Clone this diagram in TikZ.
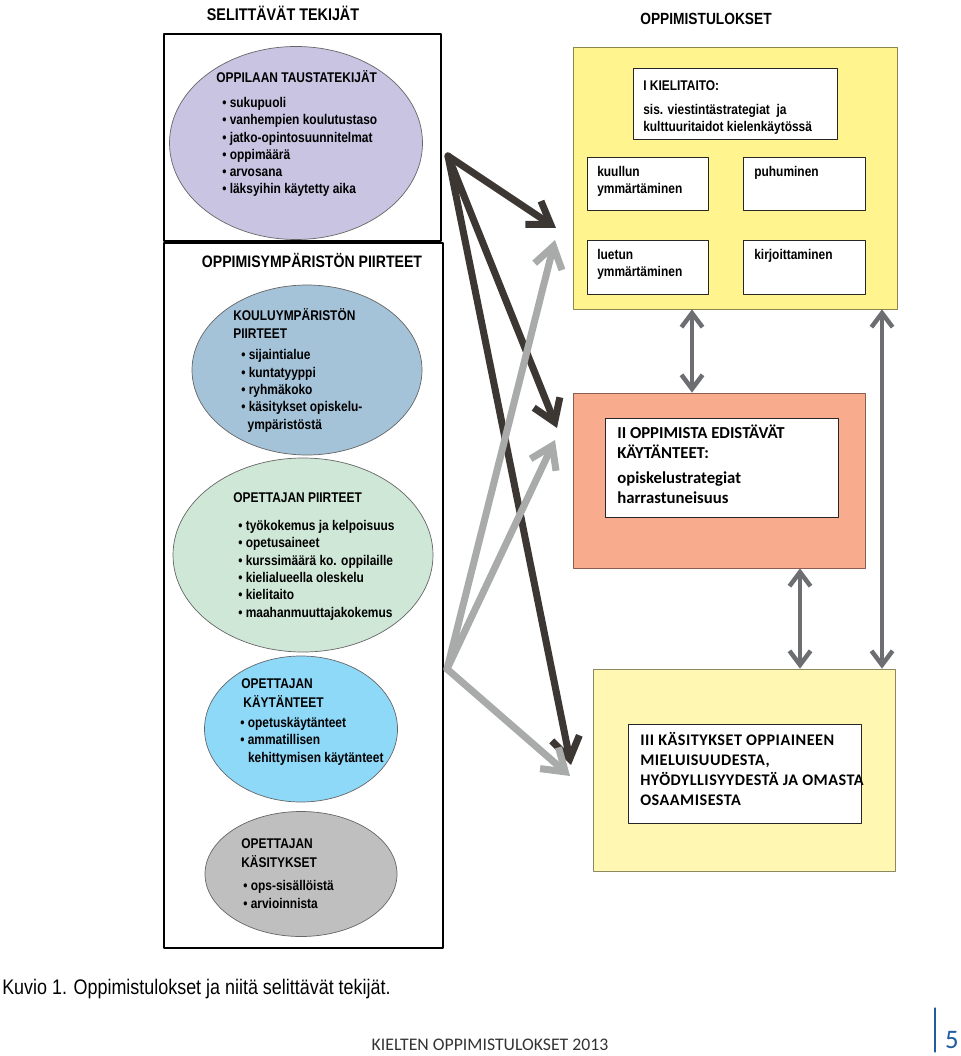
\documentclass[tikz,border=0pt]{standalone}
\usepackage{fontspec}
\setmainfont{Liberation Sans}
\newfontfamily\kapea{Liberation Sans}[FakeStretch=0.85]
\newfontfamily\calibri{Carlito}
\usetikzlibrary{shapes.geometric,arrows.meta,fit}

\definecolor{tausta}{RGB}{200,196,226}
\definecolor{koulu}{RGB}{164,194,216}
\definecolor{opettaja}{RGB}{207,231,215}
\definecolor{kaytanto}{RGB}{142,216,248}
\definecolor{kasitys}{RGB}{191,191,191}
\definecolor{keltainen}{RGB}{255,244,142}
\definecolor{lohi}{RGB}{249,171,142}
\definecolor{vaalea}{RGB}{255,247,178}
\definecolor{tumma}{RGB}{61,55,52}
\definecolor{harmaa}{RGB}{169,171,170}
\definecolor{nuoli}{RGB}{109,110,113}
\definecolor{sininen}{RGB}{31,92,160}

\def\yks{0.025cm}

\begin{document}
\begin{tikzpicture}[x=0.025cm,y=-0.025cm,line join=round,line cap=round]
\tikzset{every node/.style={inner sep=0pt,font=\kapea\bfseries\fontsize{10}{12.3}\selectfont},
  lista/.style={anchor=base west,align=left},
  otsikko/.style={lista,font=\kapea\bfseries\fontsize{10}{13.5}\selectfont},
  pallo/.style={ellipse,draw=black!60,line width=0.5pt,fill=#1},
  kehys/.style={draw=black,line width=0.9pt},
  ruutu/.style={draw=black!85,line width=0.6pt,fill=white},
  alue/.style={draw=#1!55!black,line width=0.5pt,fill=#1},
  tummanuoli/.style={draw=tumma,line width=5pt,-{Straight Barb[length=15pt,width=20pt]}},
  harmaanuoli/.style={tummanuoli,draw=harmaa},
  kaksoisnuoli/.style={draw=nuoli,line width=3.2pt,{Straight Barb[length=10pt,width=15pt]}-{Straight Barb[length=10pt,width=15pt]}},
  iso/.style={font=\kapea\bfseries\fontsize{12}{14}\selectfont},
  kali/.style={lista,font=\calibri\bfseries\fontsize{11.9}{14.2}\selectfont}}
\useasboundingbox (0,0) rectangle (960,1056);

% selittavat tekijat (base = viimeisen rivin perusviiva)
\node[iso] (selit) at (283,13) {SELITTÄVÄT TEKIJÄT};
\node[kehys,fit={(164,34) (441,241)}] (kehys1) {};
\node[kehys,fit={(164,243) (443,948)}] (kehys2) {};
\node[iso,font=\kapea\bfseries\fontsize{11.8}{14}\selectfont] (ymparisto) at (312,260) {OPPIMISYMPÄRISTÖN PIIRTEET};

\node[pallo=tausta,minimum width=253*\yks,minimum height=193*\yks] (taus) at (296,143) {};
\node[pallo=koulu,minimum width=230*\yks,minimum height=170*\yks] (koulu) at (307,370) {};
\node[pallo=opettaja,minimum width=260*\yks,minimum height=194*\yks] (opet) at (303,555) {};
\node[pallo=kaytanto,minimum width=193*\yks,minimum height=146*\yks] (kayt) at (301,729) {};
\node[pallo=kasitys,minimum width=192*\yks,minimum height=125*\yks] (kasi) at (301,874) {};

\node[otsikko] (tausO) at (216,83) {OPPILAAN TAUSTATEKIJÄT};
\node[lista] (tausL) at (222,194) {\textbullet\ sukupuoli\\\textbullet\ vanhempien koulutustaso\\\textbullet\ jatko-opintosuunnitelmat\\\textbullet\ oppimäärä\\\textbullet\ arvosana\\\textbullet\ läksyihin käytetty aika};
\node[otsikko] (kouluO) at (233,339) {KOULUYMPÄRISTÖN\\PIIRTEET};
\node[lista] (kouluL) at (241,429) {\textbullet\ sijaintialue\\\textbullet\ kuntatyyppi\\\textbullet\ ryhmäkoko\\\textbullet\ käsitykset opiskelu-\\\hspace*{4.5pt}ympäristöstä};
\node[otsikko] (opetO) at (233,502) {OPETTAJAN PIIRTEET};
\node[lista] (opetL) at (238,617) {\textbullet\ työkokemus ja kelpoisuus\\\textbullet\ opetusaineet\\\textbullet\ kurssimäärä ko. oppilaille\\\textbullet\ kielialueella oleskelu\\\textbullet\ kielitaito\\\textbullet\ maahanmuuttajakokemus};
\node[otsikko] (kaytO) at (241,707) {OPETTAJAN\\\hspace*{1.5pt}KÄYTÄNTEET};
\node[lista] (kaytL) at (240,762) {\textbullet\ opetuskäytänteet\\\textbullet\ ammatillisen\\\hspace*{5.5pt}kehittymisen käytänteet};
\node[otsikko] (kasiO) at (241,867) {OPETTAJAN\\KÄSITYKSET};
\node[lista] (kasiL) at (243,908) {\textbullet\ ops-sisällöistä\\\textbullet\ arvioinnista};

% oppimistulokset
\node[iso,font=\kapea\bfseries\fontsize{11.5}{14}\selectfont] (tulokset) at (706,19) {OPPIMISTULOKSET};
\node[alue=keltainen,fit={(573,47) (897,309)}] (kieli) {};
\node[ruutu,fit={(633,68) (837,139)}] (kielitaito) {};
\node[ruutu,fit={(587,157) (708,210)}] (kuullun) {};
\node[ruutu,fit={(743,157) (865,210)}] (puhuminen) {};
\node[ruutu,fit={(587,240) (708,294)}] (luetun) {};
\node[ruutu,fit={(743,240) (865,294)}] (kirjoitt) {};
\node[alue=lohi,fit={(573,393) (865,568)}] (kaytan) {};
\node[ruutu,fit={(605,418) (838,517)}] (edist) {};
\node[alue=vaalea,fit={(593,669) (895,871)}] (kasit) {};
\node[ruutu,fit={(628,724) (861,823)}] (mieluis) {};

\node[lista] (kielitaitoT) at (643,132) {I KIELITAITO:\\[5pt]sis. viestintästrategiat\ \ ja\\kulttuuritaidot kielenkäytössä};
\node[lista] (kuullunT) at (597,194) {kuullun\\ymmärtäminen};
\node[lista] (puhuminenT) at (754,177) {puhuminen};
\node[lista] (luetunT) at (597,277) {luetun\\ymmärtäminen};
\node[lista] (kirjoittT) at (754,260) {kirjoittaminen};
\node[kali] (edistT) at (617,503) {II OPPIMISTA EDISTÄVÄT\\KÄYTÄNTEET:\\[3.5pt]opiskelustrategiat\\harrastuneisuus};
\node[kali,font=\calibri\bfseries\fontsize{11.5}{14.2}\selectfont\addfontfeature{LetterSpace=3}] (mieluisT) at (640,805) {III KÄSITYKSET OPPIAINEEN\\MIELUISUUDESTA,\\HYÖDYLLISYYDESTÄ JA OMASTA\\OSAAMISESTA};

% nuolet
\coordinate (tumma) at (448,156);
\coordinate (harmaa) at (447,669);
\foreach \n/\x/\y in {1/556/228,2/557/428,3/571/765}
  \coordinate (kt\n) at (\x,\y);
\foreach \n/\x/\y in {1/555/240,2/555/440,3/570/776}
  \coordinate (ht\n) at (\x,\y);
\foreach \n in {1,2,3}
  \draw[tummanuoli] (tumma) -- (kt\n);
\foreach \n in {1,2,3}
  \draw[harmaanuoli] (harmaa) -- (ht\n);

\coordinate (ax) at (692,0);
\coordinate (bx) at (800,0);
\coordinate (cx) at (882,0);
\draw[kaksoisnuoli] (kieli.south -| ax) -- (kaytan.north -| ax);
\draw[kaksoisnuoli] (kaytan.south -| bx) -- (kasit.north -| bx);
\draw[kaksoisnuoli] (kieli.south -| cx) -- (kasit.north -| cx);

% kuvateksti
\node[anchor=base west,font=\kapea\fontsize{15}{17}\selectfont] (kuvio) at (2,994) {Kuvio 1. Oppimistulokset ja niitä selittävät tekijät.};
\node[anchor=base,font=\calibri\fontsize{12.6}{15}\selectfont,text=black!80] (sarja) at (490,1050) {KIELTEN OPPIMISTULOKSET 2013};
\node[anchor=base,font=\calibri\fontsize{19}{22}\selectfont,text=sininen] (sivu) at (952,1048) {5};
\draw[sininen,line width=0.8pt] (935,1008) -- (935,1052);
\end{tikzpicture}
\end{document}
